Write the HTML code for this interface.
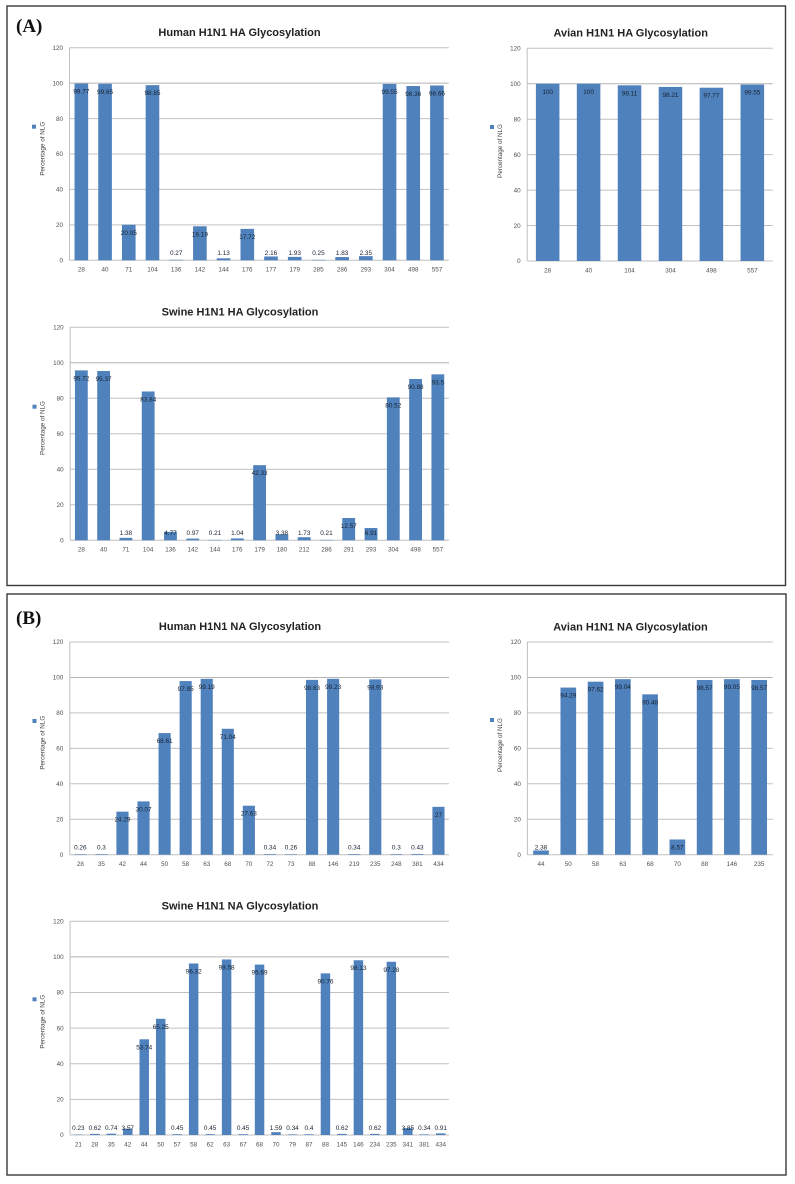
<!DOCTYPE html>
<html lang="en">
<head>
<meta charset="utf-8">
<title>H1N1 HA and NA Glycosylation</title>
<style>
  html, body { margin: 0; padding: 0; background: #fff; }
  body { width: 795px; height: 1184px; overflow: hidden; }
  svg { display: block; filter: blur(0.3px); }
  text { font-family: "Liberation Sans", sans-serif; }
  .tick { font-size: 6.3px; fill: #505050; }
  .value { font-size: 6.4px; fill: #17222e; text-anchor: middle; }
  .axis-title { font-size: 6.3px; fill: #444; text-anchor: middle; }
  .chart-title { font-size: 11px; font-weight: bold; fill: #222; text-anchor: middle; }
  .panel-label { font-family: "Liberation Serif", serif; font-size: 19px; font-weight: bold; fill: #111; }
</style>
</head>
<body>
<svg id="figure" xmlns="http://www.w3.org/2000/svg" width="795" height="1184" viewBox="0 0 795 1184">
  <rect x="7" y="6" width="778.5" height="579.5" fill="#fff" stroke="#3a3a3a" stroke-width="1.4"/>
  <rect x="7" y="594" width="779" height="581" fill="#fff" stroke="#3a3a3a" stroke-width="1.4"/>
  <text class="panel-label" x="16" y="32">(A)</text>
  <text class="panel-label" x="16" y="624">(B)</text>
</svg>
<script>
// Shared axis values
const yTicks = [0, 20, 40, 60, 80, 100, 120];

// Human H1N1 HA
const humanHaSites = ["28","40","71","104","136","142","144","176","177","179","285","286","293","304","498","557"];
const humanHaValues = [99.77,99.65,20.05,98.85,0.27,19.19,1.13,17.72,2.16,1.93,0.25,1.83,2.35,99.55,98.36,98.66];

// Avian H1N1 HA
const avianHaSites = ["28","40","104","304","498","557"];
const avianHaValues = [100,100,99.11,98.21,97.77,99.55];

// Swine H1N1 HA
const swineHaSites = ["28","40","71","104","136","142","144","176","179","180","212","286","291","293","304","498","557"];
const swineHaValues = [95.72,95.37,1.38,83.84,4.77,0.97,0.21,1.04,42.33,3.38,1.73,0.21,12.57,6.91,80.52,90.88,93.5];

// Human H1N1 NA
const humanNaSites = ["28","35","42","44","50","58","63","68","70","72","73","88","146","219","235","248","381","434"];
const humanNaValues = [0.26,0.3,24.29,30.07,68.61,97.95,99.19,71.04,27.63,0.34,0.26,98.63,99.23,0.34,98.93,0.3,0.43,27];

// Avian H1N1 NA
const avianNaSites = ["44","50","58","63","68","70","88","146","235"];
const avianNaValues = [2.38,94.29,97.62,99.04,90.48,8.57,98.57,99.05,98.57];

// Swine H1N1 NA
const swineNaSites = ["21","28","35","42","44","50","57","58","62","63","67","68","70","79","87","88","145","146","234","235","341","381","434"];
const swineNaValues = [0.23,0.62,0.74,3.57,53.74,65.25,0.45,96.32,0.45,98.58,0.45,95.69,1.59,0.34,0.4,90.76,0.62,98.13,0.62,97.28,3.85,0.34,0.91];

const SVG_NS = "http://www.w3.org/2000/svg";
const figure = document.getElementById("figure");

function make(parent, tag, attrs, text) {
  const el = document.createElementNS(SVG_NS, tag);
  for (const key in attrs) el.setAttribute(key, attrs[key]);
  if (text !== undefined) el.textContent = text;
  parent.appendChild(el);
  return el;
}

function drawChart(title, slug, sites, values, box) {
  const g = make(figure, "g", {});
  
  

  const yMax = yTicks[yTicks.length - 1];
  const yScale = v => box.y0 - (v / yMax) * (box.y0 - box.yTop);
  const band = (box.right - box.left) / sites.length;
  const xScale = i => box.left + band * (i + 0.5);
  const barWidth = band * 0.575;

  const titleEl = make(g, "text", { class: "chart-title", x: box.titleX, y: box.titleY + 4 }, title);
  
  

  yTicks.forEach(t => {
    const y = yScale(t);
    const grid = make(g, "line", { x1: box.left, x2: box.right, y1: y, y2: y, stroke: t === 100 ? "#b4b4b4" : "#c0c0c0", "stroke-width": 1 });
    
    
    const label = make(g, "text", { class: "tick", x: box.left - 6.5, y: y + 2.2, "text-anchor": "end" }, String(t));
    
    
  });

  const axis = make(g, "line", { x1: box.left, x2: box.left, y1: box.yTop, y2: box.y0, stroke: "#c0c0c0", "stroke-width": 1 });
  
  

  values.forEach((v, i) => {
    const top = yScale(v);
    const bar = make(g, "rect", { x: xScale(i) - barWidth / 2, y: top, width: barWidth, height: box.y0 - top, fill: "#4f81bd" });
    
    
  });

  values.forEach((v, i) => {
    const centre = Math.min(yScale(v) + 7.8, box.y0 - 7.3);
    const label = make(g, "text", { class: "value", x: xScale(i), y: centre + 2.2 }, String(v));
    
    
    const tick = make(g, "text", { class: "tick", x: xScale(i), y: box.y0 + 11.4, "text-anchor": "middle" }, sites[i]);
    
    
  });

  const marker = make(g, "rect", { x: box.legendX - 2, y: box.legendY - 2, width: 4, height: 4, fill: "#4f81bd" });
  
  

  const yTitle = make(g, "text", {
    class: "axis-title",
    x: box.axisTitleX,
    y: box.axisTitleY,
    transform: "rotate(-90 " + box.axisTitleX + " " + box.axisTitleY + ")"
  }, "Percentage of NLG");
  
  
}

drawChart("Human H1N1 HA Glycosylation", "human-ha", humanHaSites, humanHaValues,
  { left: 69.5, right: 448.8, yTop: 47.7, y0: 260.3, titleX: 239.5, titleY: 32, legendX: 34, legendY: 126.7, axisTitleX: 44.5, axisTitleY: 148.7 });
drawChart("Avian H1N1 HA Glycosylation", "avian-ha", avianHaSites, avianHaValues,
  { left: 527.2, right: 772.8, yTop: 48.3, y0: 261, titleX: 630.7, titleY: 32.3, legendX: 492, legendY: 127, axisTitleX: 502, axisTitleY: 151 });
drawChart("Swine H1N1 HA Glycosylation", "swine-ha", swineHaSites, swineHaValues,
  { left: 70.2, right: 449, yTop: 327.3, y0: 540.3, titleX: 240, titleY: 311.7, legendX: 34.5, legendY: 406.7, axisTitleX: 44.5, axisTitleY: 428 });
drawChart("Human H1N1 NA Glycosylation", "human-na", humanNaSites, humanNaValues,
  { left: 69.8, right: 449, yTop: 642, y0: 854.7, titleX: 240, titleY: 626, legendX: 34.5, legendY: 721, axisTitleX: 44.5, axisTitleY: 742.7 });
drawChart("Avian H1N1 NA Glycosylation", "avian-na", avianNaSites, avianNaValues,
  { left: 527.4, right: 772.8, yTop: 642, y0: 854.7, titleX: 630.5, titleY: 626.3, legendX: 492, legendY: 720, axisTitleX: 502, axisTitleY: 745 });
drawChart("Swine H1N1 NA Glycosylation", "swine-na", swineNaSites, swineNaValues,
  { left: 70.1, right: 449, yTop: 921.3, y0: 1135, titleX: 240, titleY: 905.3, legendX: 34.5, legendY: 999.3, axisTitleX: 44.5, axisTitleY: 1021.7 });
</script>
</body>
</html>
